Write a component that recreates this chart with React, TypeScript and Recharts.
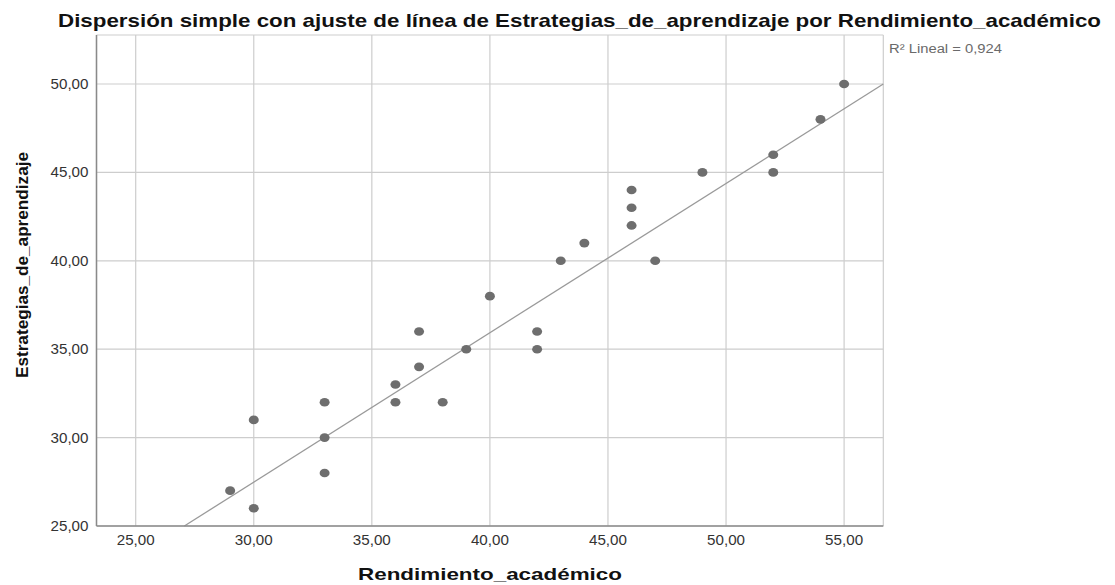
import React from 'react';
import { ScatterChart, Scatter, XAxis, YAxis, CartesianGrid, ReferenceLine } from 'recharts';

// Data
const rendimiento = [29, 30, 30, 33, 33, 33, 36, 36, 37, 37, 38, 39, 40, 42, 42, 43, 44, 46, 46, 46, 47, 49, 52, 52, 54, 55];
const estrategias = [27, 31, 26, 32, 30, 28, 33, 32, 36, 34, 32, 35, 38, 36, 35, 40, 41, 44, 43, 42, 40, 45, 46, 45, 48, 50];
const xTicks = [25, 30, 35, 40, 45, 50, 55];
const yTicks = [25, 30, 35, 40, 45, 50];
const xDomain = [23.34, 56.66];
const yDomain = [25, 52.77];
const fitSlope = 0.8446;
const fitIntercept = 2.145;
const rSquaredLabel = 'R² Lineal = 0,924';
const chartTitle = 'Dispersión simple con ajuste de línea de Estrategias_de_aprendizaje por Rendimiento_académico';
const xTitle = 'Rendimiento_académico';
const yTitle = 'Estrategias_de_aprendizaje';

const points = rendimiento.map((x, i) => ({ x, y: estrategias[i] }));
const fitStartX = (yDomain[0] - fitIntercept) / fitSlope;
const fitEndX = xDomain[1];
const fitSegment = [
  { x: fitStartX, y: fitSlope * fitStartX + fitIntercept },
  { x: fitEndX, y: fitSlope * fitEndX + fitIntercept },
];

const FONT = '"Liberation Sans", Arial, sans-serif';
const fmt = (v: number) => v.toFixed(2).replace('.', ',');

const XTick = (props: any) => {
  const { x, y, payload } = props;
  return (
    <text x={x} y={y + 11} textAnchor="middle" fontSize={14} fill="#333" fontFamily={FONT} textLength={38} lengthAdjust="spacingAndGlyphs">
      {fmt(payload.value)}
    </text>
  );
};

const YTick = (props: any) => {
  const { x, y, payload } = props;
  return (
    <text x={x} y={y + 5} textAnchor="end" fontSize={14} fill="#333" fontFamily={FONT} textLength={38} lengthAdjust="spacingAndGlyphs">
      {fmt(payload.value)}
    </text>
  );
};

const Dot = (props: any) => {
  const { cx, cy } = props;
  if (cx == null || cy == null) return null;
  return <ellipse cx={cx} cy={cy} rx={5} ry={4.3} fill="#6e6e6e" />;
};

export default function App() {
  return (
    <div style={{ position: 'absolute', left: 0, top: 0, width: 1115, height: 585, background: '#fff', fontFamily: FONT }}>
      <ScatterChart width={1115} height={585} margin={{ top: 35, right: 231.7, bottom: 0, left: 0 }}>
        <CartesianGrid stroke="#cdcdcd" strokeWidth={1.2} />
        <XAxis
          type="number"
          dataKey="x"
          domain={xDomain}
          ticks={xTicks}
          allowDataOverflow
          height={59}
          tickLine={false}
          tickSize={6}
          tickMargin={2}
          axisLine={{ stroke: '#8a8a8a', strokeWidth: 1.5 }}
          tick={<XTick />}
        />
        <YAxis
          type="number"
          dataKey="y"
          domain={yDomain}
          ticks={yTicks}
          allowDataOverflow
          width={96.5}
          tickLine={false}
          tickSize={6}
          tickMargin={2}
          axisLine={{ stroke: '#8a8a8a', strokeWidth: 1.5 }}
          tick={<YTick />}
        />
        <ReferenceLine segment={fitSegment} stroke="#9a9a9a" strokeWidth={1.3} ifOverflow="visible" />
        <Scatter data={points} shape={<Dot />} isAnimationActive={false} />
      </ScatterChart>
      <svg width={1115} height={585} style={{ position: 'absolute', left: 0, top: 0, pointerEvents: 'none' }}>
        <text x={58} y={27} fontSize={19} fontWeight="bold" fill="#111" fontFamily={FONT} textLength={1043} lengthAdjust="spacingAndGlyphs">
          {chartTitle}
        </text>
        <text x={889} y={52.5} fontSize={12} fill="#6a6a6a" fontFamily={FONT} textLength={113} lengthAdjust="spacingAndGlyphs">
          {rSquaredLabel}
        </text>
        <text x={490} y={580} textAnchor="middle" fontSize={17} fontWeight="bold" fill="#111" fontFamily={FONT} textLength={264} lengthAdjust="spacingAndGlyphs">
          {xTitle}
        </text>
        <text transform="translate(28,265) rotate(-90)" x={0} y={0} textAnchor="middle" fontSize={17} fontWeight="bold" fill="#111" fontFamily={FONT} textLength={226} lengthAdjust="spacingAndGlyphs">
          {yTitle}
        </text>
      </svg>
    </div>
  );
}
